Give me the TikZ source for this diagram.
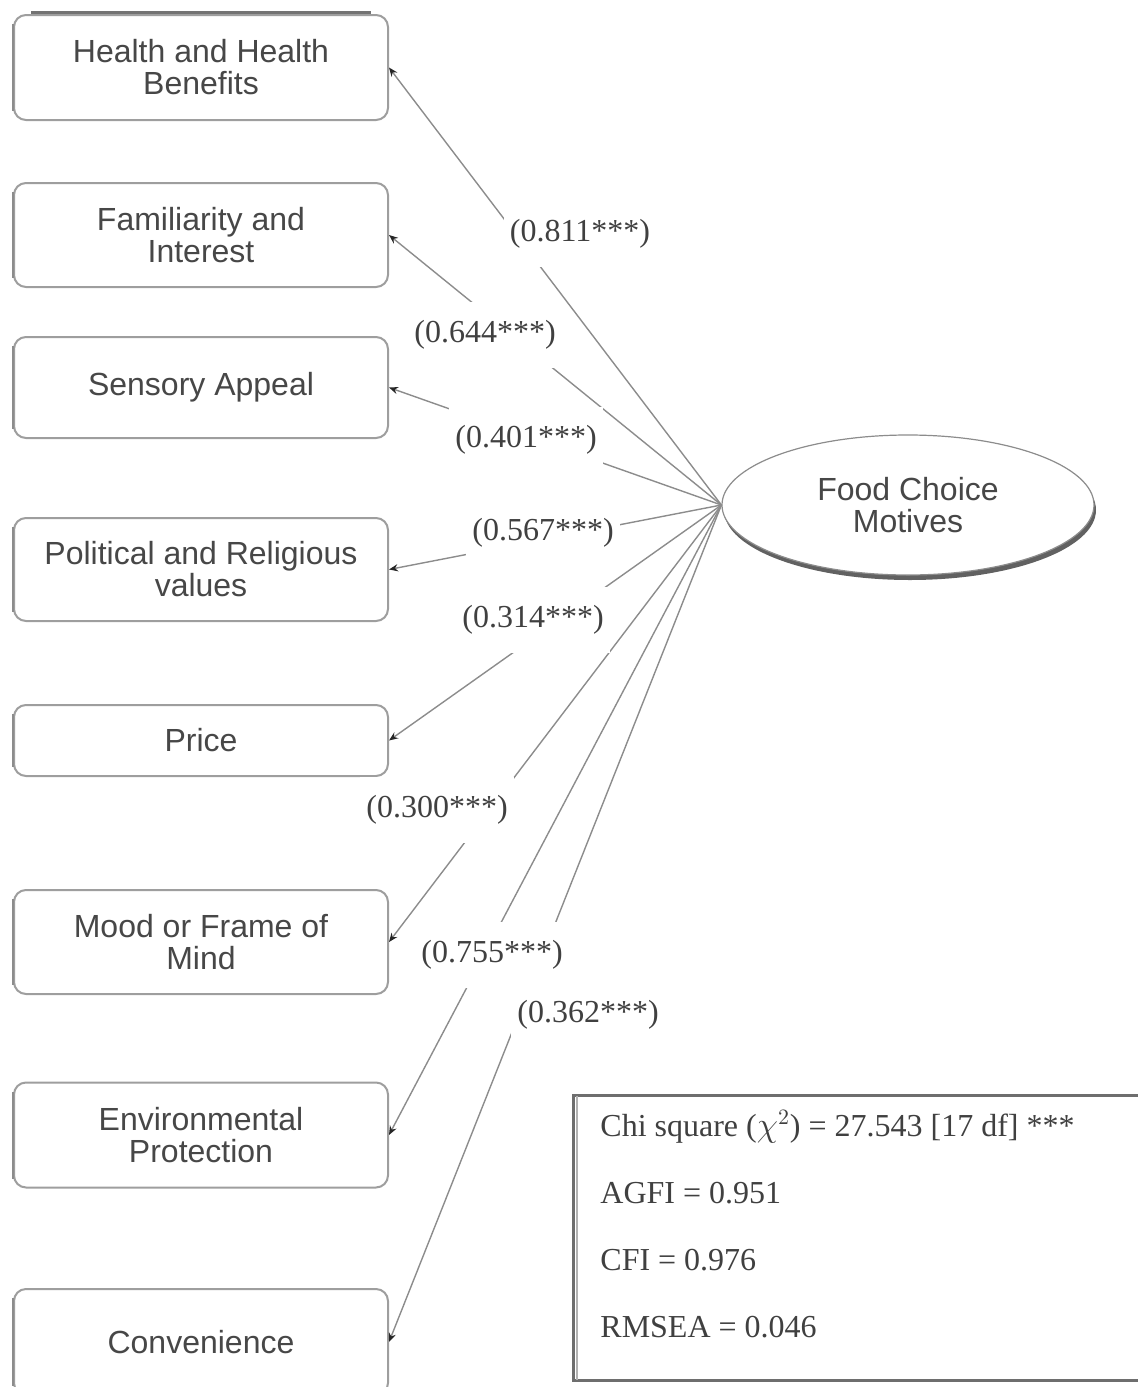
\documentclass[tikz,border=0pt]{standalone}
\usepackage{fontspec}
\setmainfont{Liberation Serif}
\newfontfamily\boxfont{Liberation Sans}
\usetikzlibrary{arrows.meta,shapes.geometric}
\tikzset{
  motivebox/.style={draw=black!38, line width=1pt, rounded corners=6pt, fill=white,
    minimum width=187pt, align=center, inner sep=0pt,
    font=\boxfont\fontsize{16}{16}\selectfont, text=black!72},
  leftshade/.style={draw=black!45, line width=1.2pt},
  conn/.style={draw=black!45, line width=0.7pt,
    -{Stealth[length=4.5pt,width=3.6pt,color=black!85]}},
  coef/.style={fill=white, font=\fontsize{16}{18}\selectfont, text=black!75,
    inner xsep=3pt, inner ysep=0pt, minimum height=33pt},
  ellshadow/.style={ellipse, fill=black!62, minimum width=186pt, minimum height=70pt, inner sep=0pt},
  ellnode/.style={ellipse, draw=black!45, line width=0.6pt, fill=white,
    minimum width=186pt, minimum height=70pt, inner sep=0pt, align=center,
    font=\boxfont\fontsize{16}{16}\selectfont, text=black!72},
  statbox/.style={draw=black!57, line width=1.5pt, fill=white, minimum width=289pt,
    minimum height=142.5pt, inner sep=0pt},
  stattext/.style={anchor=west, inner sep=0pt, font=\fontsize{16}{18}\selectfont, text=black!75}
}
\begin{document}
\begin{tikzpicture}[x=0.5pt,y=-0.5pt]
\useasboundingbox (0,0) rectangle (1138,1387);

% indicator boxes
\node[motivebox, minimum height=52.5pt] (hb)    at (201,67.5)  {Health and Health\\Benefits};
\node[motivebox, minimum height=52pt]   (fi)    at (201,235)   {Familiarity and\\Interest};
\node[motivebox, minimum height=50.5pt] (sa)    at (201,387.5) {Sensory Appeal};
\node[motivebox, minimum height=51.5pt] (pv)    at (201,569.5) {Political and Religious\\values};
\node[motivebox, minimum height=35.5pt] (pr)    at (201,740.5) {Price};
\node[motivebox, minimum height=52pt]   (mf)    at (201,942)   {Mood or Frame of\\Mind};
\node[motivebox, minimum height=52.5pt] (ep)    at (201,1135)  {Environmental\\Protection};
\node[motivebox, minimum height=53pt]   (cv)    at (201,1342)  {Convenience};

% darker left edges
\foreach \b in {hb,fi,sa,pv,pr,mf,ep,cv}{
  \draw[leftshade] ([yshift=-5pt]\b.north west) -- ([yshift=5pt]\b.south west);
}
\draw[draw=black!55, line width=1.5pt] ([xshift=9pt,yshift=0.6pt]hb.north west) -- ([xshift=-9pt,yshift=0.6pt]hb.north east);

% latent construct
\node[ellshadow] (ellsh) at (910,510) {};
\node[ellnode] (ell) at (908,505) {Food Choice\\Motives};

% loadings
\draw[conn] (ell.west) -- (hb.east);
\draw[conn] (ell.west) -- (fi.east);
\draw[conn] (ell.west) -- (sa.east);
\draw[conn] (ell.west) -- (pv.east);
\draw[conn] (ell.west) -- (pr.east);
\draw[conn] (ell.west) -- (mf.east);
\draw[conn] (ell.west) -- (ep.east);
\draw[conn] (ell.west) -- (cv.east);

% coefficient labels
\node[coef] (c1) at (580,234)  {(0.811***)};
\node[coef] (c2) at (485,335)  {(0.644***)};
\node[coef] (c3) at (526,440)  {(0.401***)};
\node[coef] (c4) at (543,533)  {(0.567***)};
\node[coef] (c5) at (533,620)  {(0.314***)};
\node[coef] (c6) at (437,810)  {(0.300***)};
\node[coef] (c7) at (492,955)  {(0.755***)};
\node[coef] (c8) at (588,1015) {(0.362***)};

% fit statistics
\node[statbox] (stats) at (862,1237.5) {};
\draw[draw=black!30, line width=1pt] ([xshift=2.5pt,yshift=-1pt]stats.north west) -- ([xshift=2.5pt,yshift=1pt]stats.south west);
\node[stattext] (s1) at (600,1127) {Chi square ($\chi^{2}$) = 27.543 [17 df] ***};
\node[stattext] (s2) at (600,1193) {AGFI = 0.951};
\node[stattext] (s3) at (600,1260) {CFI = 0.976};
\node[stattext] (s4) at (600,1327) {RMSEA = 0.046};
\end{tikzpicture}
\end{document}
